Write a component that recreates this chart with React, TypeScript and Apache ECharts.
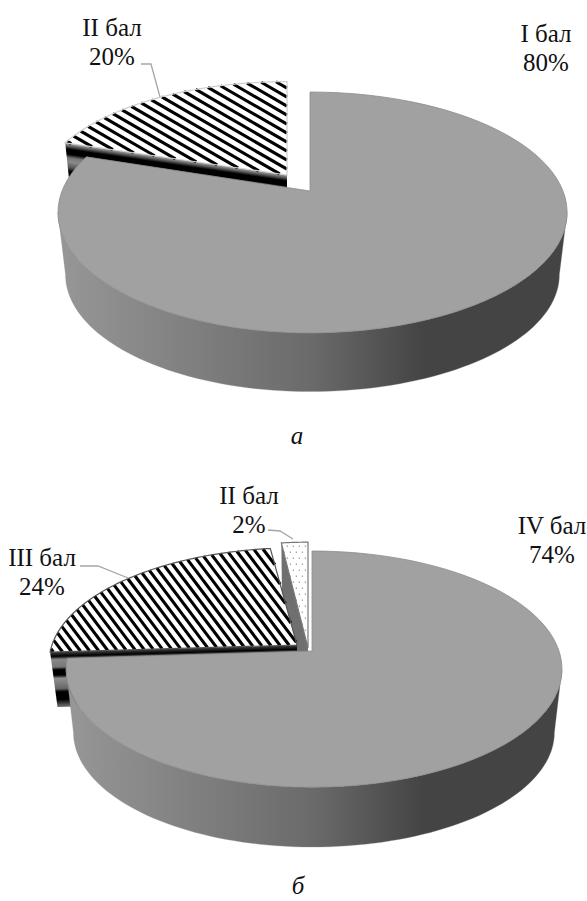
import React, { useEffect, useRef } from "react";
import * as echarts from "echarts";

const gradesA = ["I бал", "II бал"];
const valuesA = [80, 20];
const gradesB = ["IV бал", "III бал", "II бал"];
const valuesB = [74, 24, 2];
const captionA = "а";
const captionB = "б";

const STEPS = 90;
const FONT = '"Liberation Serif", "Times New Roman", serif';
const WALL = [
  { offset: 0, color: "#979797" },
  { offset: 0.5, color: "#6a6a6a" },
  { offset: 0.72, color: "#444444" },
  { offset: 1, color: "#444444" },
];
const STRIPES_A = [
  [0, "#aaaaaa"], [0.08, "#555555"], [0.15, "#000000"], [0.27, "#000000"], [0.36, "#777777"],
  [0.46, "#8a8a8a"], [0.6, "#555555"], [0.7, "#000000"], [0.85, "#000000"], [1, "#444444"],
];
const STRIPES_B = [
  [0, "#444444"], [0.08, "#000000"], [0.14, "#888888"], [0.28, "#777777"], [0.33, "#000000"],
  [0.43, "#000000"], [0.49, "#909090"], [0.68, "#666666"], [0.74, "#000000"], [0.88, "#000000"], [1, "#666666"],
];

type Piece = {
  ox: number; oy: number; rl: number; rr: number; s: number; p: number; depth: number; shrink: number;
  fill?: "solid" | "hatch" | "dots"; hatchAngle?: number; hatchGap?: number; phase?: number;
  stripes?: any[]; stripeLen?: number; stroke?: string;
};
type Lab = { x: number; y: number; line: number[][] };

const piecesA: Piece[] = [
  { ox: 310, oy: 191, rl: 248, rr: 253, s: 116.6, p: 0.178, depth: 63, shrink: 0.97, fill: "solid" },
  { ox: 287, oy: 175, rl: 246, rr: 246, s: 110, p: 0.178, depth: 63, shrink: 0.97, fill: "hatch", hatchAngle: 30, hatchGap: 7.8, phase: 3, stripes: STRIPES_A, stripeLen: 40, stroke: "#cfcfcf" },
];
const labelsA: Lab[] = [
  { x: 546, y: 48, line: [] },
  { x: 112, y: 42, line: [[141, 64], [151, 64], [160, 97]] },
];
const piecesB: Piece[] = [
  { ox: 312, oy: 651, rl: 243, rr: 247, s: 115.3, p: 0.153, depth: 64, shrink: 0.97, fill: "solid" },
  { ox: 297, oy: 645, rl: 245, rr: 245, s: 112, p: 0.153, depth: 55, shrink: 0.97, fill: "hatch", hatchAngle: 53, hatchGap: 7.4, phase: 2, stripes: STRIPES_B, stripeLen: 54, stroke: "#555555" },
  { ox: 308, oy: 648, rl: 245, rr: 245, s: 122, p: 0.153, depth: 60, shrink: 0.97, fill: "dots", stroke: "#777777" },
];
const labelsB: Lab[] = [
  { x: 552, y: 540, line: [] },
  { x: 42, y: 572, line: [[80, 566], [98, 566], [128, 578]] },
  { x: 249, y: 510, line: [[268, 530], [280, 531], [293, 539]] },
];

function pt(c: Piece, theta: number, bottom = false): number[] {
  const u = Math.sin(theta);
  const v = Math.cos(theta);
  const k = 1 / (1 + c.p * v);
  const m = bottom ? c.shrink : 1;
  return [c.ox + (u < 0 ? c.rl : c.rr) * u * k * m, c.oy + (bottom ? c.depth : 0) - c.s * v * k * m];
}
function arc(c: Piece, a0: number, a1: number, bottom = false): number[][] {
  const out: number[][] = [];
  for (let i = 0; i <= STEPS; i++) out.push(pt(c, a0 + ((a1 - a0) * i) / STEPS, bottom));
  return out;
}
function hatchLines(poly: number[][], deg: number, gap: number, phase: number, width: number, color: string) {
  const a = (deg * Math.PI) / 180;
  const d = [Math.cos(a), Math.sin(a)];
  const n = [-d[1], d[0]];
  const proj = poly.map((q) => q[0] * n[0] + q[1] * n[1]);
  const lo = Math.min(...proj);
  const hi = Math.max(...proj);
  const els: any[] = [];
  for (let o = Math.floor(lo / gap) * gap + phase; o < hi; o += gap) {
    const ts: number[] = [];
    for (let i = 0; i < poly.length; i++) {
      const A = poly[i];
      const B = poly[(i + 1) % poly.length];
      const pa = proj[i] - o;
      const pb = proj[(i + 1) % poly.length] - o;
      if (pa === pb || pa * pb > 0) continue;
      const t = pa / (pa - pb);
      ts.push((A[0] + (B[0] - A[0]) * t) * d[0] + (A[1] + (B[1] - A[1]) * t) * d[1]);
    }
    ts.sort((x, y) => x - y);
    for (let i = 0; i + 1 < ts.length; i += 2) {
      els.push({
        type: "line",
        shape: {
          x1: n[0] * o + d[0] * ts[i], y1: n[1] * o + d[1] * ts[i],
          x2: n[0] * o + d[0] * ts[i + 1], y2: n[1] * o + d[1] * ts[i + 1],
        },
        style: { stroke: color, lineWidth: width, fill: null },
      });
    }
  }
  return els;
}
function dotMarks(poly: number[][]) {
  const xs = poly.map((q) => q[0]);
  const ys = poly.map((q) => q[1]);
  const inside = (x: number, y: number) => {
    let c = false;
    for (let i = 0, j = poly.length - 1; i < poly.length; j = i++) {
      const a = poly[i];
      const b = poly[j];
      if (a[1] > y !== b[1] > y && x < ((b[0] - a[0]) * (y - a[1])) / (b[1] - a[1]) + a[0]) c = !c;
    }
    return c;
  };
  const els: any[] = [];
  let row = 0;
  for (let y = Math.min(...ys) + 4; y < Math.max(...ys); y += 6, row++) {
    for (let x = Math.min(...xs) + (row % 2 ? 3 : 0); x < Math.max(...xs); x += 6) {
      if (inside(x, y)) els.push({ type: "circle", shape: { cx: x, cy: y, r: 0.7 }, style: { fill: "#9a9a9a" } });
    }
  }
  return els;
}

function makeSeries(names: string[], values: number[], pieces: Piece[], labels: Lab[]) {
  const total = values.reduce((a, b) => a + b, 0);
  const starts = values.map((_, i) => values.slice(0, i).reduce((a, b) => a + b, 0));
  const order = values.map((_, i) => i).reverse();
  const renderItem = (_: any, api: any) => {
    const i = api.value(0) as number;
    const val = api.value(1) as number;
    const c = pieces[i];
    const a0 = (starts[i] / total) * Math.PI * 2;
    const a1 = ((starts[i] + val) / total) * Math.PI * 2;
    const top = arc(c, a0, a1);
    const bot = arc(c, a0, a1, true);
    const apex = [c.ox, c.oy];
    const face = [apex, ...top];
    const children: any[] = [];
    if (c.fill === "solid") {
      const fr0 = Math.acos(-c.p);
      const fr1 = Math.min(a1, Math.PI * 2 - fr0);
      const t = arc(c, fr0, fr1);
      const b = arc(c, fr0, fr1, true);
      children.push({
        type: "polygon",
        shape: { points: [...t, ...b.slice().reverse()] },
        style: { fill: new echarts.graphic.LinearGradient(0, 0, 1, 0, WALL), stroke: "#8a8a8a", lineWidth: 0.3 },
      });
      children.push({ type: "polygon", shape: { points: face }, style: { fill: "#a1a1a1", stroke: "#8d8d8d", lineWidth: 0.8 } });
    } else {
      const apexB = [c.ox, c.oy + c.depth];
      const start = top[0];
      const dx = start[0] - apex[0];
      const dy = start[1] - apex[1];
      const len = Math.hypot(dx, dy);
      const nx = dy / len;
      const ny = -dx / len;
      const L = c.stripeLen ?? 30;
      const stops = (c.stripes ?? [[0, "#777"], [1, "#555"]]).map((s: any[]) => ({ offset: s[0], color: s[1] }));
      const grad = new echarts.graphic.LinearGradient(apex[0], apex[1], apex[0] + nx * L, apex[1] + ny * L, stops, true);
      children.push({ type: "polygon", shape: { points: [start, apex, apexB, bot[0]] }, style: { fill: c.fill === "dots" ? "#6f6f6f" : grad } });
      children.push({ type: "polygon", shape: { points: face }, style: { fill: "#ffffff" } });
      if (c.fill === "hatch") children.push(...hatchLines(face, c.hatchAngle ?? 45, c.hatchGap ?? 10, c.phase ?? 0, 3.1, "#000000"));
      else children.push(...dotMarks(face));
      children.push({ type: "polygon", shape: { points: face }, style: { fill: "none", stroke: c.stroke, lineWidth: 1.2 } });
    }
    const lab = labels[i];
    if (lab.line.length) {
      children.push({ type: "polyline", shape: { points: lab.line }, style: { fill: "none", stroke: "#a6a6a6", lineWidth: 1.3 } });
    }
    children.push({
      type: "text",
      style: {
        x: lab.x, y: lab.y, text: `${names[i]}\n${val}%`, font: `25px ${FONT}`, lineHeight: 29,
        fill: "#111111", align: "center", verticalAlign: "middle",
      },
    });
    return { type: "group", children };
  };
  return {
    type: "custom" as const,
    coordinateSystem: "none" as const,
    silent: true,
    clip: false,
    renderItem,
    data: order.map((i) => [i, values[i]]),
  };
}

export default function App() {
  const ref = useRef<HTMLDivElement>(null);
  useEffect(() => {
    const chart = echarts.init(ref.current!, undefined, { renderer: "svg" });
    chart.setOption({
      animation: false,
      backgroundColor: "#ffffff",
      series: [makeSeries(gradesA, valuesA, piecesA, labelsA), makeSeries(gradesB, valuesB, piecesB, labelsB)],
      graphic: [
        { type: "text", x: 297, y: 435, style: { text: captionA, font: `italic 25px ${FONT}`, fill: "#111111", align: "center", verticalAlign: "middle" } },
        { type: "text", x: 298, y: 885, style: { text: captionB, font: `italic 25px ${FONT}`, fill: "#111111", align: "center", verticalAlign: "middle" } },
      ],
    });
    return () => chart.dispose();
  }, []);
  return <div ref={ref} style={{ position: "fixed", left: 0, top: 0, width: 587, height: 901 }} />;
}
